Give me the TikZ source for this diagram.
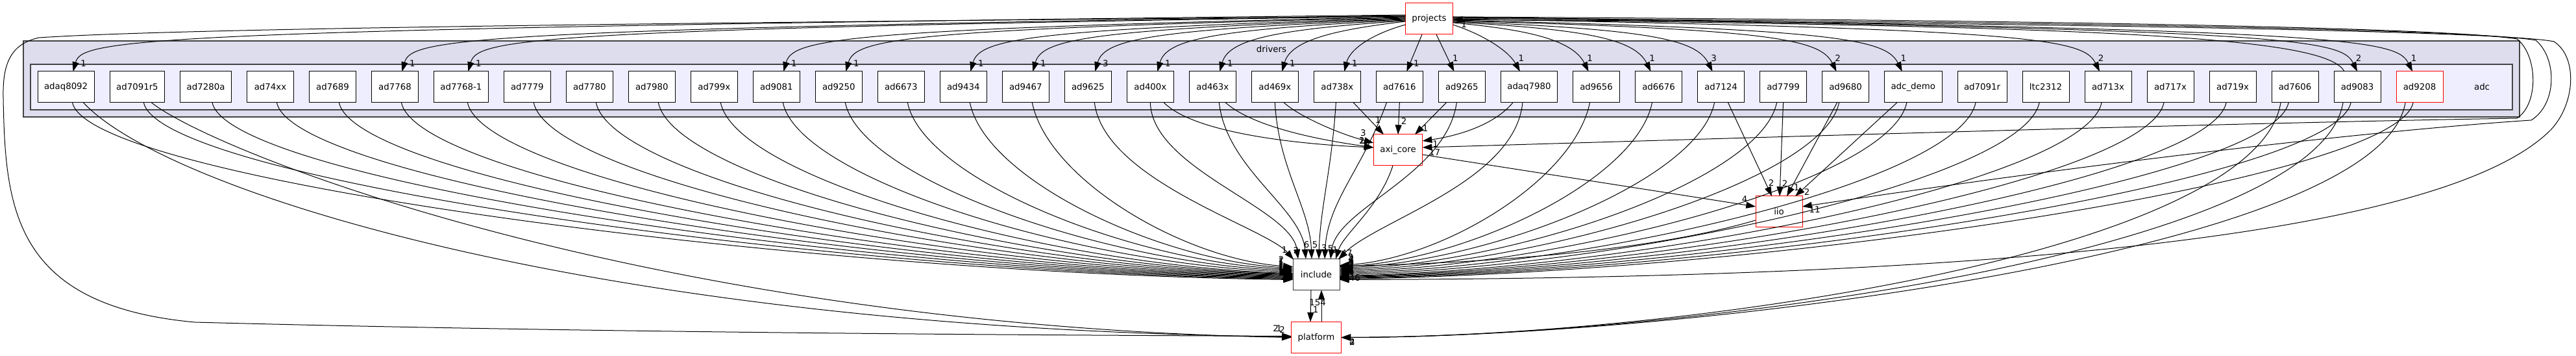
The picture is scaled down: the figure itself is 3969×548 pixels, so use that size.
\documentclass[tikz,border=0pt]{standalone}
\usepackage{fontspec}
\setmainfont{DejaVu Sans}
\usetikzlibrary{arrows.meta, positioning, calc, fit, backgrounds}
\definecolor{drvfill}{HTML}{DDDDEE}
\definecolor{adcfill}{HTML}{EEEEFF}
\definecolor{grpline}{HTML}{444444}

\begin{document}
\begin{tikzpicture}[
    x=0.75pt, y=-0.75pt,
    font=\fontsize{10}{12}\selectfont,
    dirnode/.style={rectangle, draw=black, fill=white, line width=0.75pt, minimum width=54pt, minimum height=36pt, inner xsep=7.5pt, inner ysep=0pt, outer sep=0pt},
    hotnode/.style={dirnode, draw=red},
    dep/.style={-{Triangle[length=11pt, width=7.5pt]}, line width=0.75pt, draw=black},
    lbl/.style={inner sep=0pt, font=\fontsize{10}{12}\selectfont},
    grp/.style={rectangle, draw=grpline, line width=1pt}
]
\useasboundingbox (0,0) rectangle (3969,548);

% adc drivers
\node[dirnode, anchor=west] (adaq8092) at (58,134) {adaq8092};
\node[dirnode, right=18pt of adaq8092] (ad7091r5) {ad7091r5};
\node[dirnode, right=18pt of ad7091r5] (ad7280a) {ad7280a};
\node[dirnode, right=18pt of ad7280a] (ad74xx) {ad74xx};
\node[dirnode, right=18pt of ad74xx] (ad7689) {ad7689};
\node[dirnode, right=18pt of ad7689] (ad7768) {ad7768};
\node[dirnode, right=18pt of ad7768] (ad7768b) {ad7768-1};
\node[dirnode, right=18pt of ad7768b] (ad7779) {ad7779};
\node[dirnode, right=18pt of ad7779] (ad7780) {ad7780};
\node[dirnode, right=18pt of ad7780] (ad7980) {ad7980};
\node[dirnode, right=18pt of ad7980] (ad799x) {ad799x};
\node[dirnode, right=18pt of ad799x] (ad9081) {ad9081};
\node[dirnode, right=18pt of ad9081] (ad9250) {ad9250};
\node[dirnode, right=18pt of ad9250] (ad6673) {ad6673};
\node[dirnode, right=18pt of ad6673] (ad9434) {ad9434};
\node[dirnode, right=18pt of ad9434] (ad9467) {ad9467};
\node[dirnode, right=18pt of ad9467] (ad9625) {ad9625};
\node[dirnode, right=18pt of ad9625] (ad400x) {ad400x};
\node[dirnode, right=18pt of ad400x] (ad463x) {ad463x};
\node[dirnode, right=18pt of ad463x] (ad469x) {ad469x};
\node[dirnode, right=18pt of ad469x] (ad738x) {ad738x};
\node[dirnode, right=18pt of ad738x] (ad7616) {ad7616};
\node[dirnode, right=18pt of ad7616] (ad9265) {ad9265};
\node[dirnode, right=18pt of ad9265] (adaq7980) {adaq7980};
\node[dirnode, right=18pt of adaq7980] (ad9656) {ad9656};
\node[dirnode, right=18pt of ad9656] (ad6676) {ad6676};
\node[dirnode, right=18pt of ad6676] (ad7124) {ad7124};
\node[dirnode, right=18pt of ad7124] (ad7799) {ad7799};
\node[dirnode, right=18pt of ad7799] (ad9680) {ad9680};
\node[dirnode, right=18pt of ad9680] (adcdemo) {adc\_demo};
\node[dirnode, right=18pt of adcdemo] (ad7091r) {ad7091r};
\node[dirnode, right=18pt of ad7091r] (ltc2312) {ltc2312};
\node[dirnode, right=18pt of ltc2312] (ad713x) {ad713x};
\node[dirnode, right=18pt of ad713x] (ad717x) {ad717x};
\node[dirnode, right=18pt of ad717x] (ad719x) {ad719x};
\node[dirnode, right=18pt of ad719x] (ad7606) {ad7606};
\node[dirnode, right=18pt of ad7606] (ad9083) {ad9083};
\node[hotnode, right=18pt of ad9083] (ad9208) {ad9208};
\node[dirnode, draw=none, fill=none, right=18pt of ad9208] (adclabel) {adc};

% groups
\coordinate (drvtop) at ($(adaq8092.north)+(0,-25)$);
\begin{scope}[on background layer]
    \node[grp, fill=drvfill, inner sep=16.5pt, fit=(drvtop)(adaq8092)(adclabel)] (drvgroup) {};
    \node[grp, fill=adcfill, inner sep=8.25pt, fit=(adaq8092)(adclabel)] (adcgroup) {};
\end{scope}
\node at ($(drvgroup.north)+(0,13)$) {drivers};

% other directories
\node[hotnode] (projects) at (2202,29) {projects};
\node[hotnode] (axicore) at (2154,231) {axi\_core};
\node[dirnode, draw=black!80] (include) at (2028,422.5) {include};
\node[hotnode, below=36.75pt of include] (platform) {platform};
\node[hotnode] (iio) at (2741,326) {iio};

% projects to drivers
\foreach \tgt/\cnt/\dy in {adaq8092/1/-6, ad7768/1/-5, ad7768b/1/-4, ad9081/1/-3, ad9250/1/-2, ad9434/1/-1, ad9467/1/0, ad9625/3/1, ad400x/1/2, ad463x/1/3, ad469x/1/4}
{
    \draw[dep] ($(projects.west)+(0,\dy)$) .. controls ($(\tgt.north)+(100,-65)$) and ($(\tgt.north)+(25,-50)$) .. ($(\tgt.north)+(11,0)$) coordinate (t);
    \node[lbl] at ($(t)+(16,-12)$) {\cnt};
}
\foreach \tgt/\cnt/\dy/\dx in {ad9656/1/6/-12, ad6676/1/5/-12, ad7124/3/4/-13, ad9680/2/3/-14, adcdemo/1/2/-17, ad713x/2/0/-13, ad9083/2/-2/0, ad9208/1/-3/-11}
{
    \draw[dep] ($(projects.east)+(0,\dy)$) .. controls ($(\tgt.north)+(\dx-100,-65)$) and ($(\tgt.north)+(\dx-25,-50)$) .. ($(\tgt.north)+(\dx,0)$) coordinate (t);
    \node[lbl] at ($(t)+(2,-20)$) {\cnt};
}
\draw[dep] ($(projects.west)+(0,9)$) .. controls (2115,52) and (2080,75) .. ($(ad738x.north)+(11,0)$) coordinate (t);
\node[lbl] at ($(t)+(16,-12)$) {1};
\draw[dep] ($(projects.south)+(-11,0)$) -- ($(ad7616.north)+(11,0)$) coordinate (t);
\node[lbl] at ($(t)+(15,-12)$) {1};
\draw[dep] ($(projects.south)+(11,0)$) -- ($(ad9265.north)+(-12,0)$) coordinate (t);
\node[lbl] at ($(t)+(2,-20)$) {1};
\draw[dep] ($(projects.east)+(0,9)$) .. controls (2290,55) and (2325,80) .. ($(adaq7980.north)+(-14,0)$) coordinate (t);
\node[lbl] at ($(t)+(2,-20)$) {1};
\draw[dep] ($(ad9083.north)+(-20,0)$) .. controls (3585,60) and (3300,40) .. ($(projects.east)+(0,1)$) coordinate (t);
\node[lbl] at ($(t)+(17,8)$) {1};

% projects around the drivers
\draw[dep] ($(projects.east)+(0,-3)$) .. controls (3000,30) and (3750,40) .. (3878,60) .. controls (3910,85) and (3912,160) .. (3878,182) .. controls (3400,190) and (2600,215) .. ($(axicore.east)+(0,-4)$) coordinate (t);
\node[lbl] at ($(t)+(19,8)$) {17};
\draw[dep] ($(projects.east)+(0,-1)$) .. controls (3000,32) and (3800,43) .. (3907,62) .. controls (3940,90) and (3940,160) .. (3900,185) .. controls (3700,198) and (3300,240) .. ($(iio.east)+(0,-8)$) coordinate (t);
\node[lbl] at ($(t)+(19,5)$) {11};
\draw[dep] ($(projects.east)+(0,1)$) .. controls (3000,34) and (3850,46) .. (3935,64) .. controls (3972,88) and (3968,160) .. (3930,200) .. controls (3800,330) and (3300,428) .. ($(include.east)+(0,8)$) coordinate (t);
\node[lbl] at ($(t)+(19,-3)$) {246};
\draw[dep] ($(projects.west)+(0,-4)$) .. controls (1200,34) and (300,42) .. (60,58) .. controls (15,68) and (4,100) .. (5,150) .. controls (8,320) and (20,470) .. (300,496) .. controls (900,512) and (1600,516) .. ($(platform.west)+(0,-2)$) coordinate (t);
\node[lbl] at ($(t)+(-24,-12)$) {2};

% drivers to axi_core
\draw[dep] ($(ad738x.south)+(25,0)$) -- ($(axicore.north)+(-22,0)$) coordinate (t);
\node[lbl] at ($(t)+(-9,-22)$) {1};
\draw[dep] (ad7616.south) -- (axicore.north) coordinate (t);
\node[lbl] at ($(t)+(9,-20)$) {2};
\draw[dep] ($(ad9265.south)+(-24,0)$) -- ($(axicore.north)+(26,0)$) coordinate (t);
\node[lbl] at ($(t)+(16,-9)$) {1};
\draw[dep] ($(adaq7980.south)+(-25,0)$) .. controls (2300,195) and (2240,210) .. ($(axicore.east)+(0,-14)$) coordinate (t);
\node[lbl] at ($(t)+(20,5)$) {1};
\draw[dep] ($(ad469x.south)+(14,0)$) .. controls (2000,178) and (2060,205) .. ($(axicore.west)+(0,-11)$) coordinate (t);
\node[lbl] at ($(t)+(-16,-15)$) {3};
\draw[dep] ($(ad463x.south)+(20,0)$) .. controls (1930,195) and (2030,215) .. ($(axicore.west)+(0,-4)$) coordinate (t);
\node[lbl] at ($(t)+(-18,-10)$) {2};
\draw[dep] ($(ad400x.south)+(21,0)$) .. controls (1840,205) and (2000,222) .. ($(axicore.west)+(0,-4)$) coordinate (t);
\node[lbl] at ($(t)+(-18,-10)$) {1};

% drivers to iio
\draw[dep] ($(ad7124.south)+(11,0)$) -- ($(iio.north)+(-11,0)$) coordinate (t);
\node[lbl] at ($(t)+(-1,-20)$) {2};
\draw[dep] (ad7799.south) -- ($(iio.north)+(1,0)$) coordinate (t);
\node[lbl] at ($(t)+(8,-19)$) {2};
\draw[dep] ($(ad9680.south)+(-13,0)$) -- ($(iio.north)+(12,0)$) coordinate (t);
\node[lbl] at ($(t)+(15,-13)$) {1};
\draw[dep] ($(adcdemo.south)+(-25,0)$) -- ($(iio.north)+(25,0)$) coordinate (t);
\node[lbl] at ($(t)+(18,-6)$) {2};
\draw[dep] ($(axicore.east)+(0,7)$) -- ($(iio.west)+(0,-8)$) coordinate (t);
\node[lbl] at ($(t)+(-17,-11)$) {4};

% into include
\draw[dep] ($(axicore.south)+(-8,0)$) .. controls (2125,320) and (2070,360) .. ($(include.north)+(30,0)$) coordinate (t);
\node[lbl] at ($(t)+(17,-9)$) {47};
\draw[dep] ($(iio.west)+(0,13)$) .. controls (2550,385) and (2300,405) .. ($(include.east)+(0,-13)$) coordinate (t);
\node[lbl] at ($(t)+(18,-11)$) {4};
\draw[dep] ($(platform.north)+(8,0)$) -- ($(include.south)+(8,0)$) coordinate (t);
\node[lbl] at ($(t)+(-6,19)$) {154};
\draw[dep] ($(include.south)+(-8,0)$) -- ($(platform.north)+(-9,0)$) coordinate (t);
\node[lbl] at ($(t)+(8,-19)$) {1};

\draw[dep] ($(ad9625.south)+(10,0)$) .. controls ($(ad9625.south)+(25,120)$) and (1950,350) .. ($(include.north west)+(1,1)$) coordinate (t);
\node[lbl] at ($(t)+(-14,-15)$) {1};
\draw[dep] (ad400x.south) .. controls (1775,260) and (1990,320) .. ($(include.north)+(-28,0)$) coordinate (t);
\node[lbl] at ($(t)+(-3,-13)$) {2};
\draw[dep] ($(ad463x.south)+(10,0)$) .. controls (1890,260) and (2005,320) .. ($(include.north)+(-16,0)$) coordinate (t);
\node[lbl] at ($(t)+(1,-22)$) {6};
\draw[dep] (ad469x.south) .. controls (1970,260) and (2018,320) .. ($(include.north)+(-7,0)$) coordinate (t);
\node[lbl] at ($(t)+(5,-22)$) {5};
\draw[dep] ($(ad738x.south)+(-2,0)$) .. controls (2052,260) and (2034,320) .. ($(include.north)+(4,0)$) coordinate (t);
\node[lbl] at ($(t)+(8,-17)$) {3};
\draw[dep] ($(ad7616.south)+(-20,0)$) .. controls (2100,260) and (2045,310) .. ($(include.north)+(13,0)$) coordinate (t);
\node[lbl] at ($(t)+(9,-16)$) {5};
\draw[dep] ($(ad9265.south)+(-8,0)$) .. controls (2228,270) and (2060,320) .. ($(include.north)+(22,0)$) coordinate (t);
\node[lbl] at ($(t)+(7,-14)$) {1};
\draw[dep] ($(adaq7980.south)+(-10,0)$) .. controls (2334,280) and (2120,340) .. ($(include.north east)+(-2,1)$) coordinate (t);
\node[lbl] at ($(t)+(19,-4)$) {2};

\foreach \src/\dy/\cnt in {adaq8092/8/2, ad7091r5/7/1, ad7280a/6/1, ad74xx/5/1, ad7689/4/1, ad7768/3/1, ad7768b/2/1, ad7779/1/1, ad7780/0/1, ad7980/-1/1, ad799x/-2/1, ad9081/-4/1, ad9250/-6/1, ad6673/-8/1, ad9434/-10/1, ad9467/-12/2}
{
    \coordinate (t) at ($(include.west)+(0,\dy)$);
    \coordinate (m) at ($(\src.south)!0.6!(t)$);
    \draw[dep] ($(\src.south)+(10,0)$) .. controls ($(\src.south)+(35,120)$) and ($(m|-t)+(0,-10)$) .. (t);
    \node[lbl] at ($(t)+(-18,-11)$) {\cnt};
}
\foreach \src/\dy/\cnt in {ad9656/-14/2, ad6676/-12/2, ad7124/-10/4, ad7799/-8/4, ad9680/-6/2, adcdemo/-4/2, ad7091r/-2/2, ltc2312/0/2, ad713x/2/2, ad717x/3/2, ad719x/4/2, ad7606/5/6, ad9083/6/6, ad9208/7/6}
{
    \coordinate (t) at ($(include.east)+(0,\dy)$);
    \coordinate (m) at ($(\src.south)!0.6!(t)$);
    \draw[dep] ($(\src.south)+(-10,0)$) .. controls ($(\src.south)+(-35,120)$) and ($(m|-t)+(0,-10)$) .. (t);
    \node[lbl] at ($(t)+(18,-11)$) {\cnt};
}

% into platform
\draw[dep] ($(adaq8092.south)+(27,0)$) .. controls (250,290) and (900,505) .. ($(platform.west)+(0,-1)$) coordinate (t);
\node[lbl] at ($(t)+(-19,-13)$) {1};
\draw[dep] ($(ad7091r5.south)+(22,0)$) .. controls (330,235) and (1000,500) .. (platform.west) coordinate (t);
\node[lbl] at ($(t)+(-14,-12)$) {2};
\foreach \src/\cnt in {ad7606/2, ad9083/2, ad9208/4}
{
    \draw[dep] ($(\src.south)+(-22,0)$) .. controls ($(\src.south)+(-60,230)$) and (2600,518) .. (platform.east) coordinate (t);
    \node[lbl] at ($(t)+(17,7)$) {\cnt};
}
\end{tikzpicture}
\end{document}
